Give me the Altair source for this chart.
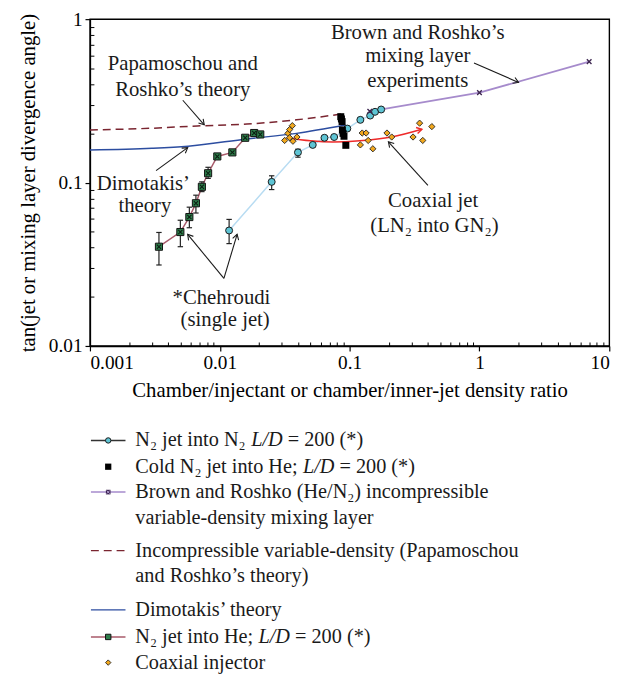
import math
import altair as alt
import pandas as pd

FONT = "Liberation Serif"
W, H = 526, 331
TOP = 7  # padding above plot (page margin 8 -> plot top at 15)

# ---------------- data ----------------
# N2 jet into N2, L/D = 200 (cyan circles)
n2n2_x = [0.0118, 0.0251, 0.040, 0.052, 0.064, 0.076, 0.096, 0.121, 0.144, 0.157, 0.175]
n2n2_y = [0.0509, 0.101, 0.153, 0.170, 0.188, 0.190, 0.214, 0.242, 0.257, 0.271, 0.280]
n2n2_err_x = [0.0118, 0.0251, 0.040]
n2n2_err_lo = [0.0423, 0.0906, 0.143]
n2n2_err_hi = [0.0595, 0.110, 0.160]

# N2 jet into He, L/D = 200 (green squares)
he_x = [0.0034, 0.00497, 0.00583, 0.00655, 0.00728, 0.00813, 0.00957, 0.0125, 0.0157, 0.0184, 0.0205]
he_y = [0.0405, 0.0498, 0.0615, 0.0747, 0.0942, 0.114, 0.1445, 0.153, 0.188, 0.201, 0.197]
he_err_x = [0.0034, 0.00497, 0.00583, 0.00655, 0.00728, 0.00813]
he_err_lo = [0.0313, 0.0405, 0.0529, 0.0651, 0.088, 0.106]
he_err_hi = [0.0495, 0.0588, 0.0707, 0.0837, 0.101, 0.124]

# Cold N2 jet into He (black squares)
cold_x = [0.0855, 0.0865, 0.0875, 0.088, 0.089, 0.0905, 0.0935]
cold_y = [0.253, 0.245, 0.236, 0.210, 0.200, 0.192, 0.169]

# Brown and Roshko mixing layer experiments
br_x = [0.143, 1.0, 7.0]
br_y = [0.273, 0.355, 0.55]

# Papamoschou and Roshko's theory
pr_x = [0.001, 0.003, 0.0067, 0.0162, 0.039, 0.093]
pr_y = [0.210, 0.215, 0.222, 0.228, 0.242, 0.265]

# Dimotakis' theory
dm_x = [0.001, 0.003, 0.0057, 0.0162, 0.039, 0.093]
dm_y = [0.158, 0.162, 0.167, 0.185, 0.200, 0.225]

# Coaxial jet trend (red)
cj_x = [0.0326, 0.05, 0.074, 0.12, 0.21, 0.36]
cj_y = [0.188, 0.180, 0.177, 0.180, 0.190, 0.212]

# Coaxial injector (orange diamonds)
co_x = [0.0316, 0.0335, 0.0345, 0.0362, 0.0345, 0.0393, 0.0366,
        0.125, 0.134, 0.121, 0.139, 0.151, 0.194, 0.211, 0.308, 0.366, 0.346, 0.43]
co_y = [0.181, 0.200, 0.211, 0.223, 0.188, 0.190, 0.179,
        0.201, 0.201, 0.170, 0.181, 0.161, 0.201, 0.190, 0.190, 0.181, 0.231, 0.220]

# annotations (data coordinates)
ann_x = [0.00519, 0.00519, 0.00258, 0.00265, 0.335, 0.335, 0.335, 0.44, 0.45, 0.0103, 0.0110]
ann_y = [0.530, 0.366, 0.0985, 0.0717, 0.820, 0.594, 0.420, 0.0765, 0.0541, 0.0196, 0.0144]
ann_t = ["Papamoschou and", "Roshko\u2019s theory", "Dimotakis\u2019", "theory",
         "Brown and Roshko\u2019s", "mixing layer", "experiments",
         "Coaxial jet", "(LN\u2082 into GN\u2082)", "*Chehroudi", "(single jet)"]

arr_x1 = [0.00519, 0.00323, 0.908, 0.401, 0.01076, 0.01076]
arr_y1 = [0.319, 0.1184, 0.539, 0.0962, 0.0259, 0.0259]
arr_x2 = [0.00759, 0.00566, 2.0, 0.199, 0.00566, 0.0136]
arr_y2 = [0.2257, 0.1636, 0.41, 0.1777, 0.0482, 0.0482]

# legend rows: (text before italic part, italic part, text after)
leg_y = [441.7, 468.3, 494, 520, 553.3, 579.3, 613.3, 640.7, 666.7]
leg_pre = ["N\u2082 jet into N\u2082",
           "Cold N\u2082 jet into He;",
           "Brown and Roshko (He/N\u2082) incompressible",
           "variable-density mixing layer",
           "Incompressible variable-density (Papamoschou",
           "and Roshko\u2019s theory)",
           "Dimotakis\u2019 theory",
           "N\u2082 jet into He;",
           "Coaxial injector"]
leg_ital = ["L/D", "L/D", "", "", "", "", "", "L/D", ""]
leg_post = ["= 200 (*)", "= 200 (*)", "", "", "", "", "", "= 200 (*)", ""]

# ---------------- helpers ----------------
xs = alt.Scale(type="log", domain=[0.001, 10], nice=False)
ys = alt.Scale(type="log", domain=[0.01, 1], nice=False)


def X(f="x"):
    return alt.X(f"{f}:Q", scale=xs, axis=None)


def Y(f="y"):
    return alt.Y(f"{f}:Q", scale=ys, axis=None)


def angle(x1, y1, x2, y2):
    dx = W / 4 * math.log10(x2 / x1)
    dy = -H / 2 * math.log10(y2 / y1)
    return math.degrees(math.atan2(dy, dx)) % 360


# Times / Liberation Serif advance widths (per em) for legend layout
TW = {" ": .25, "(": .333, ")": .333, "*": .5, "/": .278, "=": .564, ";": .278, "-": .333,
      "0": .5, "2": .5, "C": .667, "D": .722, "H": .722, "L": .611, "N": .722, "a": .444,
      "d": .5, "e": .444, "h": .5, "i": .278, "j": .278, "l": .278, "n": .5, "o": .5, "t": .278,
      "\u2082": .36}
TWI = {"L": .556, "/": .278, "D": .722}


def text_w(s, size, table=TW):
    return sum(table.get(c, .5) for c in s) * size


CHEVRON = "M-1,-0.6L0,0L-1,0.6"
XSHAPE = "M-1,-1L1,1M-1,1L1,-1"
CAP = "M-1,0L1,0"

pr_df = pd.DataFrame({"x": pr_x, "y": pr_y})
dm_df = pd.DataFrame({"x": dm_x, "y": dm_y})
br_df = pd.DataFrame({"x": br_x, "y": br_y})
n2_df = pd.DataFrame({"x": n2n2_x, "y": n2n2_y})
n2e_df = pd.DataFrame({"x": n2n2_err_x, "lo": n2n2_err_lo, "hi": n2n2_err_hi})
he_df = pd.DataFrame({"x": he_x, "y": he_y})
hee_df = pd.DataFrame({"x": he_err_x, "lo": he_err_lo, "hi": he_err_hi})
cold_df = pd.DataFrame({"x": cold_x, "y": cold_y})
cj_df = pd.DataFrame({"x": cj_x, "y": cj_y})
co_df = pd.DataFrame({"x": co_x, "y": co_y})
ann_df = pd.DataFrame({"x": ann_x, "y": ann_y, "t": ann_t})
arr_df = pd.DataFrame({"x1": arr_x1, "y1": arr_y1, "x2": arr_x2, "y2": arr_y2})
arr_df["ang"] = [angle(a, b, c, d) for a, b, c, d in zip(arr_x1, arr_y1, arr_x2, arr_y2)]
cj_head = pd.DataFrame({"x": [cj_x[-1]], "y": [cj_y[-1]],
                        "ang": [angle(cj_x[-2], cj_y[-2], cj_x[-1], cj_y[-1])]})

minor_x = [k * 10.0 ** e for e in range(-3, 1) for k in range(2, 10)]
minor_y = [k * 10.0 ** e for e in range(-2, 0) for k in range(2, 10)]

axis_common = dict(labelFont=FONT, titleFont=FONT, labelFontSize=19.5, titleFontSize=21,
                   labelColor="black", titleColor="black", titleFontWeight="normal",
                   domainColor="black", domainWidth=1.4, tickColor="black", tickWidth=1.2,
                   grid=False)

major_x = alt.Axis(values=[0.001, 0.01, 0.1, 1, 10], format="~g", tickSize=5,
                   labelPadding=3, title="Chamber/injectant or chamber/inner-jet density ratio",
                   titlePadding=8, orient="bottom", **axis_common)
major_y = alt.Axis(values=[0.01, 0.1, 1], format="~g", tickSize=5, labelPadding=3,
                   title="tan(jet or mixing layer divergence angle)", titlePadding=10,
                   orient="left", **axis_common)
minor_xa = alt.Axis(values=minor_x, labels=False, domain=False, tickSize=4, offset=-4,
                    title=None, orient="bottom", grid=False, tickColor="black", tickWidth=1)
minor_ya = alt.Axis(values=minor_y, labels=False, domain=False, tickSize=4, offset=-4,
                    title=None, orient="left", grid=False, tickColor="black", tickWidth=1)

layers = []

# theory lines (carry axes)
layers.append(alt.Chart(pr_df).mark_line(color="#7a2530", strokeDash=[8, 5], strokeWidth=1.5,
                                         interpolate="monotone").encode(
    x=alt.X("x:Q", scale=xs, axis=major_x), y=alt.Y("y:Q", scale=ys, axis=major_y)))
layers.append(alt.Chart(pr_df).mark_point(opacity=0).encode(
    x=alt.X("x:Q", scale=xs, axis=minor_xa), y=alt.Y("y:Q", scale=ys, axis=minor_ya)))
layers.append(alt.Chart(dm_df).mark_line(color="#2c4da0", strokeWidth=1.5,
                                         interpolate="monotone").encode(x=X(), y=Y()))

# N2 into N2
layers.append(alt.Chart(n2_df).mark_line(color="#b8dcf2", strokeWidth=1.5).encode(x=X(), y=Y()))
layers.append(alt.Chart(n2e_df).mark_rule(color="#222", strokeWidth=1.2).encode(
    x=X(), y=Y("lo"), y2=alt.Y2("hi:Q")))
for f in ["lo", "hi"]:
    layers.append(alt.Chart(n2e_df).mark_point(shape=CAP, size=30, filled=False, color="#222",
                                               strokeWidth=1.2, opacity=1).encode(x=X(), y=Y(f)))

# N2 into He
layers.append(alt.Chart(he_df).mark_line(color="#a85a6a", strokeWidth=1.5).encode(x=X(), y=Y()))
layers.append(alt.Chart(hee_df).mark_rule(color="#222", strokeWidth=1.2).encode(
    x=X(), y=Y("lo"), y2=alt.Y2("hi:Q")))
for f in ["lo", "hi"]:
    layers.append(alt.Chart(hee_df).mark_point(shape=CAP, size=30, filled=False, color="#222",
                                               strokeWidth=1.2, opacity=1).encode(x=X(), y=Y(f)))

# Brown & Roshko
layers.append(alt.Chart(br_df).mark_line(color="#a68bcc", strokeWidth=1.8).encode(x=X(), y=Y()))

# coaxial trend
layers.append(alt.Chart(cj_df).mark_line(color="#ee2a2a", strokeWidth=1.5,
                                         interpolate="monotone").encode(x=X(), y=Y()))
layers.append(alt.Chart(cj_head).mark_point(shape=CHEVRON, size=110, filled=False, color="#ee2a2a",
                                            strokeWidth=1.5, opacity=1).encode(
    x=X(), y=Y(), angle=alt.Angle("ang:Q", scale=None)))

# markers
layers.append(alt.Chart(n2_df).mark_point(shape="circle", size=50, filled=True, fill="#5ec4d4",
                                          stroke="#1a1a1a", strokeWidth=1, opacity=1).encode(x=X(), y=Y()))
layers.append(alt.Chart(he_df).mark_point(shape="square", size=52, filled=True, fill="#2e7d4a",
                                          stroke="#111", strokeWidth=1, opacity=1).encode(x=X(), y=Y()))
layers.append(alt.Chart(he_df).mark_point(shape=XSHAPE, size=18, filled=False, color="#0b1f12",
                                          strokeWidth=1.1, opacity=1).encode(x=X(), y=Y()))
layers.append(alt.Chart(cold_df).mark_point(shape="square", size=50, filled=True, color="black",
                                            opacity=1).encode(x=X(), y=Y()))
layers.append(alt.Chart(br_df).mark_point(shape=XSHAPE, size=22, filled=False, color="#3d2650",
                                          strokeWidth=1.4, opacity=1).encode(x=X(), y=Y()))
layers.append(alt.Chart(co_df).mark_point(shape="diamond", size=40, filled=True, fill="#f2a81d",
                                          stroke="#222", strokeWidth=0.9, opacity=1).encode(x=X(), y=Y()))

# annotations
layers.append(alt.Chart(ann_df).mark_text(font=FONT, fontSize=21, color="#1a1a1a",
                                          align="center", baseline="middle").encode(
    x=X(), y=Y(), text="t:N"))
layers.append(alt.Chart(arr_df).mark_rule(color="#1a1a1a", strokeWidth=1.1).encode(
    x=X("x1"), y=Y("y1"), x2=alt.X2("x2:Q"), y2=alt.Y2("y2:Q")))
layers.append(alt.Chart(arr_df).mark_point(shape=CHEVRON, size=110, filled=False, color="#1a1a1a",
                                           strokeWidth=1.1, opacity=1).encode(
    x=X("x2"), y=Y("y2"), angle=alt.Angle("ang:Q", scale=None)))

# legend (drawn below the plot, page pixel rows converted to plot-relative)
one = pd.DataFrame({"a": [0]})
PX0, PY0 = 8 + 83, 8 + TOP
LX0, LX1, LXC, LTX = 92 - PX0, 127 - PX0, 109.5 - PX0, 137 - PX0
LFS = 20.5
ly = [v - PY0 for v in leg_y]


def leg_line(y, color, dash=None, width=1.5):
    kw = dict(color=color, strokeWidth=width)
    if dash:
        kw["strokeDash"] = dash
    return alt.Chart(one).mark_rule(**kw).encode(
        x=alt.value(LX0), x2=alt.value(LX1), y=alt.value(y))


def leg_sym(y, **kw):
    return alt.Chart(one).mark_point(opacity=1, **kw).encode(x=alt.value(LXC), y=alt.value(y))


def leg_text(x, y, s, style="normal"):
    return alt.Chart(one).mark_text(font=FONT, fontSize=LFS, color="#1a1a1a", align="left",
                                    baseline="middle", fontStyle=style, text=s).encode(
        x=alt.value(x), y=alt.value(y))


layers.append(leg_line(ly[0], "#333333"))
layers.append(leg_sym(ly[0], shape="circle", size=30, filled=True, fill="#5ec4d4",
                      stroke="#1a1a1a", strokeWidth=1))
layers.append(leg_sym(ly[1], shape="square", size=40, filled=True, color="black"))
layers.append(leg_line(ly[2], "#a68bcc"))
layers.append(leg_sym(ly[2], shape="square", size=22, filled=True, color="#3d2650"))
layers.append(leg_sym(ly[2], shape=XSHAPE, size=10, filled=False, color="#b9a3d8", strokeWidth=1))
layers.append(leg_line(ly[4], "#7a2530", dash=[8, 5]))
layers.append(leg_line(ly[6], "#2c4da0"))
layers.append(leg_line(ly[7], "#a85a6a"))
layers.append(leg_sym(ly[7], shape="square", size=30, filled=True, fill="#2e7d4a",
                      stroke="#111", strokeWidth=1))
layers.append(leg_sym(ly[8], shape="diamond", size=30, filled=True, fill="#f2a81d",
                      stroke="#222", strokeWidth=0.9))
SP = 0.25 * LFS
for yy, pre, ital, post in zip(ly, leg_pre, leg_ital, leg_post):
    layers.append(leg_text(LTX, yy, pre))
    if ital:
        x1 = LTX + text_w(pre, LFS) + SP
        layers.append(leg_text(x1, yy, ital, "italic"))
        x2 = x1 + text_w(ital, LFS, TWI) + SP
        layers.append(leg_text(x2, yy, post))

chart = alt.layer(*layers).resolve_axis(x="independent", y="independent").properties(
    width=W, height=H,
    autosize=alt.AutoSizeParams(type="none"),
    padding={"left": 83, "top": TOP, "right": 22, "bottom": 670 - TOP - H},
).configure_view(stroke="black", strokeWidth=1.4).configure_axis(
    labelFont=FONT, titleFont=FONT, labelFontWeight="normal", titleFontWeight="normal")

chart.save("out.html", embed_options={"renderer": "svg", "actions": False})
